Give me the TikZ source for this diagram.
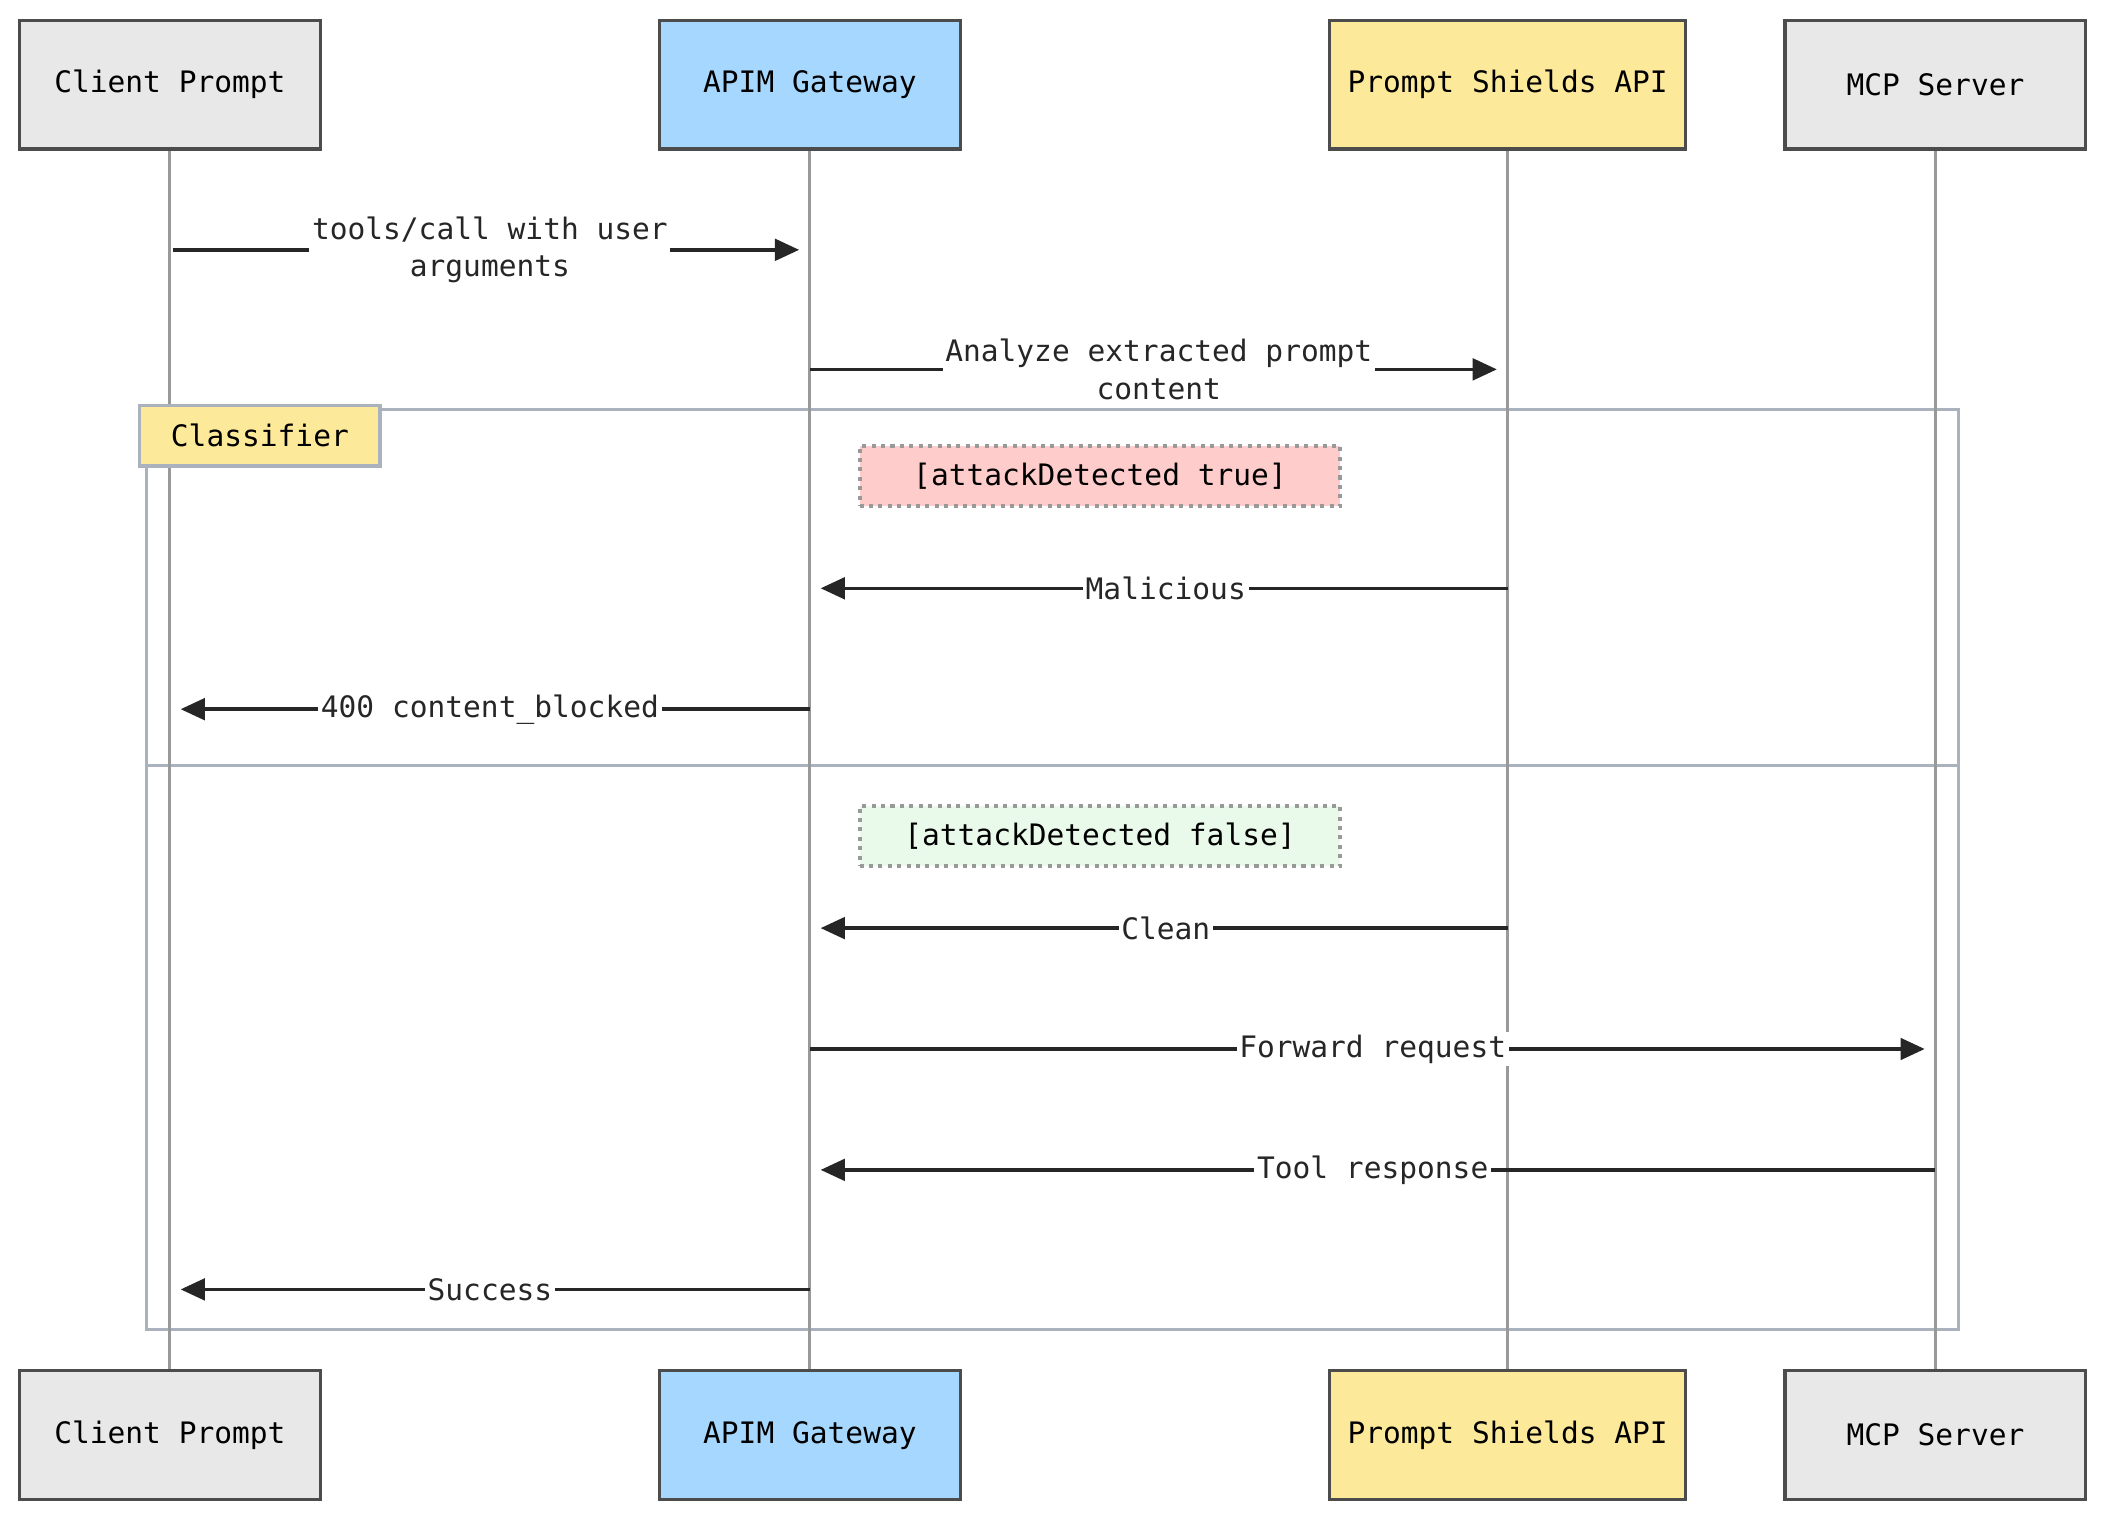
\documentclass[tikz,border=0pt]{standalone}
\usepackage{fontspec}
\setmonofont{DejaVu Sans Mono}
\usetikzlibrary{arrows.meta}
\definecolor{actg}{HTML}{E8E8E8}
\definecolor{actb}{HTML}{A6D8FF}
\definecolor{acty}{HTML}{FDE99A}
\definecolor{lgray}{HTML}{999999}
\definecolor{altc}{HTML}{AAB2BD}
\definecolor{notered}{HTML}{FFCCCC}
\definecolor{notegreen}{HTML}{EAFAEA}
\begin{document}
\begin{tikzpicture}[x=0.5pt,y=-0.5pt,font=\ttfamily\fontsize{11}{14}\selectfont,
 actor/.style={draw=black!70,line width=1.2pt,minimum width=112pt,minimum height=48pt,inner sep=0pt},
 life/.style={lgray,line width=1.1pt},
 msg/.style={line width=1.3pt,black!85,-{Triangle[length=9pt,width=8pt]}},
 lbl/.style={fill=white,inner sep=1pt,align=center,text=black!85},
 note/.style={draw=lgray,dotted,line width=1.5pt,minimum width=179pt,minimum height=22.5pt,inner sep=0pt}]
\useasboundingbox (0,0) rectangle (1568,1132);
% actors
\foreach \n/\x/\w/\c/\t in {c/126.5/112/actg/Client Prompt,a/603/112/actb/APIM Gateway,p/1122.5/132.5/acty/Prompt Shields API,m/1441/112/actg/MCP Server}{
 \node[actor,fill=\c,minimum width=\w pt] (\n t) at (\x,63) {\t};
 \node[actor,fill=\c,minimum width=\w pt] (\n b) at (\x,1068.5) {\t};
}
% alt frame
\draw[altc,line width=1.2pt] (109,305) rectangle (1458,990);
\draw[altc,line width=1.2pt] (109,570) -- (1458,570);
\foreach \n in {c,a,p,m}{\draw[life] (\n t.south) -- (\n b.north);}
\node[draw=altc,line width=1.2pt,fill=acty,minimum width=89.5pt,minimum height=22.5pt,inner sep=0pt] (cls) at (193.5,324.5) {Classifier};
\node[note,fill=notered] (n1) at (819,354.5) {[attackDetected true]};
\node[note,fill=notegreen] (n2) at (819,622.5) {[attackDetected false]};
% message coordinates
\foreach \y/\k in {186/1,275/2,438/3,528/4,691/5,781/6,871/7,960/8}{
 \coordinate (c\k) at (126.5,\y); \coordinate (a\k) at (603,\y);
 \coordinate (p\k) at (1122.5,\y); \coordinate (m\k) at (1441,\y);}
\draw[msg,shorten <=1pt,shorten >=4pt] (c1) -- node[lbl,pos=0.5]{tools/call with user\\arguments} (a1);
\draw[msg,shorten >=4pt] (a2) -- node[lbl,pos=0.5]{Analyze extracted prompt\\content} (p2);
\draw[msg,shorten >=4pt] (p3) -- node[lbl,pos=0.49]{Malicious} (a3);
\draw[msg,shorten >=4pt] (a4) -- node[lbl]{400 content\_blocked} (c4);
\draw[msg,shorten >=4pt] (p5) -- node[lbl,pos=0.49]{Clean} (a5);
\draw[msg,shorten >=4pt] (a6) -- node[lbl]{Forward request} (m6);
\draw[msg,shorten >=4pt] (m7) -- node[lbl]{Tool response} (a7);
\draw[msg,shorten >=4pt] (a8) -- node[lbl]{Success} (c8);
\end{tikzpicture}
\end{document}
